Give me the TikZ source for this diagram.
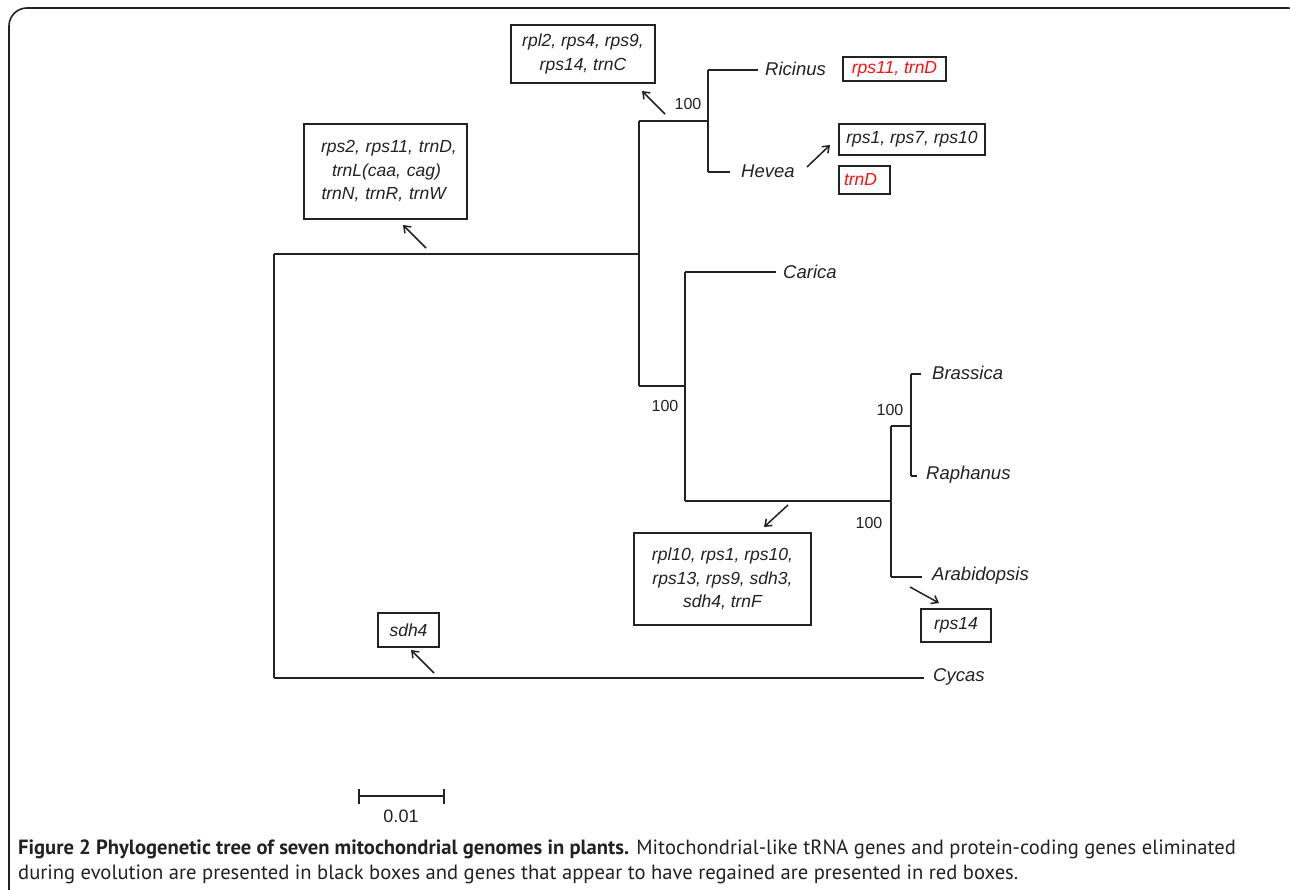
\documentclass[tikz,border=0pt]{standalone}
\usepackage{fontspec}
\setmainfont{Liberation Sans}
\newfontfamily\capfont{PT Sans}
\usetikzlibrary{arrows.meta}
\definecolor{ink}{HTML}{222222}
\definecolor{gred}{HTML}{FF1010}
\tikzset{
  br/.style={line width=2pt, draw=ink},
  lab/.style={anchor=west, inner sep=0pt, font=\fontsize{18.5}{22}\selectfont\itshape, text=ink},
  bs/.style={inner sep=0pt, font=\fontsize{16}{19}\selectfont, text=ink},
  gbox/.style={draw=ink, line width=1.4pt, inner sep=0pt, align=center,
    font=\fontsize{17.5}{23.5}\selectfont\itshape, text=ink},
  arr/.style={line width=1.5pt, draw=ink, -{Straight Barb[length=6pt,width=9pt]}},
  captxt/.style={anchor=base west, inner sep=0pt, font=\capfont\fontsize{20.6}{24}\selectfont, text=ink},
}
\begin{document}
\begin{tikzpicture}[x=1pt,y=-1pt]
\clip (0,0) rectangle (1290,890);
\fill[white] (0,0) rectangle (1290,890);
% frame
\draw[line width=1.6pt, draw=ink, rounded corners=18pt] (9,920) -- (9,8) -- (1306,8) -- (1306,920);

% tree coordinates
\coordinate (rt) at (274,254);
\coordinate (rb) at (274,678);
\coordinate (a) at (639,254);
\coordinate (at) at (639,121);
\coordinate (ab) at (639,386);
\coordinate (b) at (708,121);
\coordinate (bt) at (708,70.5);
\coordinate (bb) at (708,172);
\coordinate (c) at (685,386);
\coordinate (ct) at (685,272.5);
\coordinate (cb) at (685,500.5);
\coordinate (d) at (891,500.5);
\coordinate (dt) at (891,426);
\coordinate (db) at (891,577);
\coordinate (e) at (911,426);
\coordinate (et) at (911,374);
\coordinate (eb) at (911,476);
% tips
\coordinate (tRic) at (758,70.5);
\coordinate (tHev) at (730,172);
\coordinate (tCar) at (776,272.5);
\coordinate (tBra) at (921,374);
\coordinate (tRap) at (917,476);
\coordinate (tAra) at (922,577);
\coordinate (tCyc) at (924,678);

\draw[br] (rt) -- (rb);
\draw[br] (rt) -- (a);
\draw[br] (at) -- (ab);
\draw[br] (at) -- (b);
\draw[br] (bt) -- (bb);
\draw[br] (bt) -- (tRic);
\draw[br] (bb) -- (tHev);
\draw[br] (ab) -- (c);
\draw[br] (ct) -- (cb);
\draw[br] (ct) -- (tCar);
\draw[br] (cb) -- (d);
\draw[br] (dt) -- (db);
\draw[br] (db) -- (tAra);
\draw[br] (dt) -- (e);
\draw[br] (et) -- (eb);
\draw[br] (et) -- (tBra);
\draw[br] (eb) -- (tRap);
\draw[br] (rb) -- (tCyc);

% taxa
\node[lab] (Ric) at (765,69) {Ricinus};
\node[lab] (Hev) at (741,171) {Hevea};
\node[lab] (Car) at (783,272) {Carica};
\node[lab] (Bra) at (932,373) {Brassica};
\node[lab] (Rap) at (926,475) {Raphanus};
\node[lab] (Ara) at (932,576) {Arabidopsis};
\node[lab] (Cyc) at (933,677) {Cycas};

% bootstrap
\node[bs] (bs1) at (688,104) {100};
\node[bs] (bs2) at (665,406) {100};
\node[bs] (bs3) at (890,410) {100};
\node[bs] (bs4) at (869,523) {100};

% gene boxes
\node[gbox, minimum width=144pt, minimum height=58pt] (g1) at (583,54) {rpl2, rps4, rps9,\\rps14, trnC};
\node[gbox, minimum height=95pt, text width=146pt, inner xsep=8.5pt, align=left] (g2) at (385.5,171.5)
  {\hspace*{8.5pt}rps2, rps11, trnD,\\\hspace*{19.5pt}trnL(caa, cag)\\\hspace*{9pt}trnN, trnR, trnW};
\node[gbox, minimum width=177pt, minimum height=92pt] (g3) at (722.5,579) {rpl10, rps1, rps10,\\rps13, rps9, sdh3,\\sdh4, trnF};
\node[gbox, minimum width=103pt, minimum height=24pt, text=gred] (g4) at (894.5,69) {rps11, trnD};
\node[gbox, minimum width=146pt, minimum height=31pt] (g5) at (912,139.5) {rps1, rps7, rps10};
\node[gbox, minimum height=28pt, text width=41pt, inner xsep=5pt, align=left, text=gred] (g6) at (864.5,180) {trnD};
\node[gbox, minimum width=70pt, minimum height=33pt] (g7) at (956,625.5) {rps14};
\node[gbox, minimum width=61pt, minimum height=34pt] (g8) at (408.5,630) {sdh4};

% arrows
\coordinate (s1) at (665,114);
\coordinate (s2) at (426,248);
\coordinate (s3) at (788,505);
\coordinate (s5) at (807,167);
\coordinate (s7) at (910,587);
\coordinate (s8) at (434,673);
\draw[arr] (s1) -- (642,91);
\draw[arr] (s2) -- (403,225);
\draw[arr] (s3) -- (764,527);
\draw[arr] (s5) -- (830,145);
\draw[arr] (s7) -- (939,603);
\draw[arr] (s8) -- (411,650);

% scale bar
\coordinate (sb1) at (359,796);
\coordinate (sb2) at (444,796);
\draw[line width=1.8pt, draw=ink] (sb1) -- (sb2);
\draw[line width=1.8pt, draw=ink] ([yshift=-7.5pt]sb1) -- ([yshift=7.5pt]sb1);
\draw[line width=1.8pt, draw=ink] ([yshift=-7.5pt]sb2) -- ([yshift=7.5pt]sb2);
\node[inner sep=0pt, font=\fontsize{18}{20}\selectfont, text=ink] (sbl) at (401,816) {0.01};

% caption
\node[captxt] (cap1) at (18,854)
  {\textbf{Figure 2 Phylogenetic tree of seven mitochondrial genomes in plants.} Mitochondrial-like tRNA genes and protein-coding genes eliminated};
\node[captxt] (cap2) at (18,879)
  {during evolution are presented in black boxes and genes that appear to have regained are presented in red boxes.};
\end{tikzpicture}
\end{document}
